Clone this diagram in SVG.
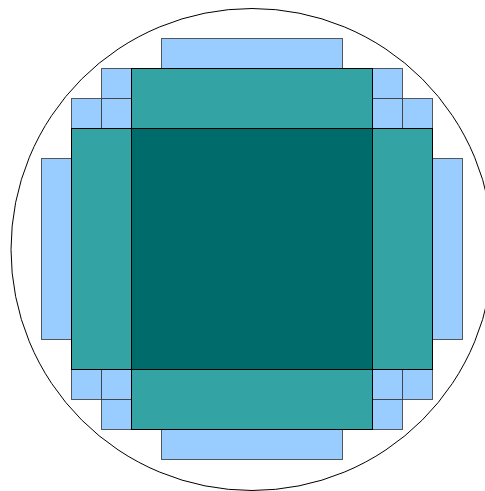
<svg xmlns="http://www.w3.org/2000/svg" width="485" height="491" viewBox="0 0 485 491">
<style>
.b{fill:#99ccff;stroke:#333;stroke-opacity:0.8;stroke-width:1}
.t{fill:#33a3a3;stroke:#000;stroke-width:1}
.d{fill:#006b6b;stroke:#000;stroke-width:1}
.c{fill:#fff;stroke:#000;stroke-width:1}
</style>
<g id="circle"><circle class="c" cx="252" cy="249.5" r="241"/></g>
<g id="top-bar"><rect class="b" x="161.5" y="38.5" width="181" height="30"/></g>
<g id="bottom-bar"><rect class="b" x="161.5" y="429.5" width="181" height="30"/></g>
<g id="left-bar"><rect class="b" x="41.5" y="158.5" width="30" height="181"/></g>
<g id="right-bar"><rect class="b" x="432.5" y="158.5" width="30" height="181"/></g>
<g id="tl-blocks">
<rect class="b" x="101.5" y="68.5" width="30" height="30"/>
<rect class="b" x="71.5" y="98.5" width="30" height="30"/>
<rect class="b" x="101.5" y="98.5" width="30" height="30"/>
</g>
<g id="tr-blocks">
<rect class="b" x="372.5" y="68.5" width="30" height="30"/>
<rect class="b" x="372.5" y="98.5" width="30" height="30"/>
<rect class="b" x="402.5" y="98.5" width="30" height="30"/>
</g>
<g id="bl-blocks">
<rect class="b" x="71.5" y="369.5" width="30" height="30"/>
<rect class="b" x="101.5" y="369.5" width="30" height="30"/>
<rect class="b" x="101.5" y="399.5" width="30" height="30"/>
</g>
<g id="br-blocks">
<rect class="b" x="372.5" y="369.5" width="30" height="30"/>
<rect class="b" x="402.5" y="369.5" width="30" height="30"/>
<rect class="b" x="372.5" y="399.5" width="30" height="30"/>
</g>
<g id="top-teal"><rect class="t" x="131.5" y="68.5" width="241" height="60"/></g>
<g id="bottom-teal"><rect class="t" x="131.5" y="369.5" width="241" height="60"/></g>
<g id="left-teal"><rect class="t" x="71.5" y="128.5" width="60" height="241"/></g>
<g id="right-teal"><rect class="t" x="372.5" y="128.5" width="60" height="241"/></g>
<g id="center"><rect class="d" x="131.5" y="128.5" width="241" height="241"/></g>
<g id="connectors"/>
</svg>
